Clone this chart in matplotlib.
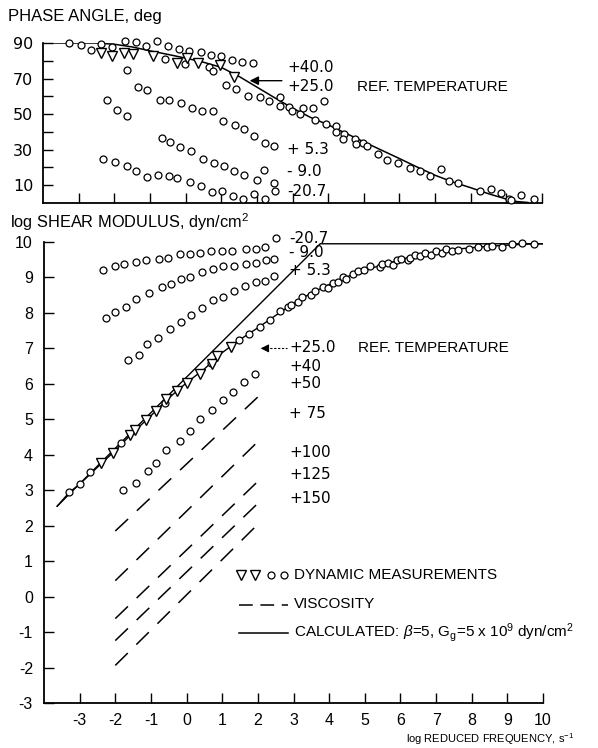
import numpy as np
import matplotlib
matplotlib.use("Agg")
import matplotlib.pyplot as plt

plt.rcParams['font.family'] = ['Liberation Sans', 'DejaVu Sans']
plt.rcParams['mathtext.fontset'] = 'custom'
plt.rcParams['mathtext.rm'] = 'Liberation Sans'
plt.rcParams['mathtext.it'] = 'Liberation Sans:italic'
plt.rcParams['axes.unicode_minus'] = False

# ---------------- phase angle panel data ----------------
phase_calc_x = [-4.0, -2.5, -2.0, -1.5, -1.0, -0.5, 0.0, 0.5, 1.0, 1.5, 2.0, 2.5, 3.0, 3.5,
                4.0, 4.5, 5.0, 5.5, 6.0, 6.5, 7.0, 7.5, 8.0, 8.5, 9.0, 9.3, 9.6]
phase_calc_y = [90, 90, 89.3, 87.8, 85.6, 83.6, 81.5, 79.2, 76.3, 71.2, 65.2, 59.2, 53.4, 48.2,
                44.0, 39.2, 34.4, 29.7, 25.0, 20.2, 15.6, 11.8, 8.6, 5.2, 2.2, 0.8, 0.3]

phase_tri_x = [-2.38, -2.06, -1.73, -1.47, -0.91, -0.25, 0.05, 0.36, 0.97, 1.35]
phase_tri_y = [84.4, 82.5, 84.4, 84.0, 82.5, 78.8, 81.6, 78.8, 77.9, 70.8]

phase_ref_x = [-3.27, -2.94, -2.66, -2.38, -2.06, -0.58, -0.01, 0.67, 0.78, 1.14, 1.42, 1.74,
               2.08, 2.33, 2.64, 2.64, 2.9, 2.99, 3.22, 3.3, 3.58, 3.88, 3.62, 3.93, 4.21, 4.23,
               4.44, 4.42, 4.74, 4.78, 4.98, 5.1, 5.39, 5.65, 5.96, 6.31, 6.59, 6.87, 7.18, 7.38,
               7.64, 8.25, 8.58, 8.85, 9.07, 9.14, 9.42, 9.77]
phase_ref_y = [90, 88.7, 86.3, 89.6, 87.8, 81.2, 78.4, 76.6, 74.5, 66.3, 64.3, 60.1,
               59.6, 57.3, 59.6, 54.5, 54, 51.7, 50.2, 53.2, 53.6, 57.3, 46.6, 44.6, 43.3, 39.9,
               38.6, 36.2, 36.2, 33.4, 33.9, 32.1, 27.4, 24, 22.3, 19.9, 18, 15.2, 19.3, 12.4,
               11.5, 6.8, 8.1, 5.5, 2.1, 1.6, 4.6, 2.1]

phase_40_x = [-1.71, -1.4, -1.12, -0.79, -0.49, -0.19, 0.09, 0.42, 0.7, 0.98, 1.31, 1.59, 1.9]
phase_40_y = [90.9, 90.6, 88.1, 90.9, 88.1, 86.8, 85.3, 85.0, 83.1, 82.5, 80.7, 79.2, 78.8]

phase_5_x = [-1.64, -1.34, -1.07, -0.72, -0.47, -0.14, 0.17, 0.47, 0.77, 1.06, 1.4, 1.65,
             1.93, 2.22, 2.48]
phase_5_y = [75, 65, 63.3, 58.2, 57.7, 56, 53.6, 51.7, 52, 46.4, 43.6, 41.4, 37.7, 34, 32]

phase_m9_x = [-2.2, -1.93, -1.65, -0.65, -0.44, -0.17, 0.14, 0.49, 0.79, 1.09, 1.37, 1.65,
              1.99, 2.2, 2.48, 2.5]
phase_m9_y = [58.2, 52.2, 49.2, 36.7, 34.3, 31.5, 29.3, 25, 22.3, 20.8, 18, 15.8, 12.8,
              18.4, 11.5, 6.8]

phase_m21_x = [-2.31, -1.99, -1.65, -1.4, -1.09, -0.78, -0.47, -0.23, 0.12, 0.42, 0.73,
               1.03, 1.33, 1.62, 1.93, 2.24]
phase_m21_y = [25, 23.1, 20.8, 18, 14.9, 15.6, 15.2, 13.9, 11.9, 9.3, 6.4, 6.8, 4, 2.5, 5, 2.5]

# ---------------- shear modulus panel data ----------------
mod_calc_x = [-3.63, -3.29, -3.0, -2.5, -2.0, -1.5, -1.0, -0.5, 0.0, 0.5, 1.0, 1.5, 2.0, 2.5,
              3.0, 3.5, 4.0, 4.5, 5.0, 5.5, 6.0, 6.5, 7.0, 7.5, 8.0, 8.5, 9.0, 9.5, 10.0]
mod_calc_y = [2.55, 2.94, 3.17, 3.65, 4.12, 4.63, 5.1, 5.6, 6.03, 6.42, 6.88, 7.25, 7.58, 7.93,
              8.27, 8.56, 8.8, 9.02, 9.2, 9.36, 9.5, 9.62, 9.72, 9.79, 9.84, 9.88, 9.91, 9.94, 9.95]

mod_asym_x = [-3.63, 3.75, 10.0]
mod_asym_y = [2.55, 9.95, 9.95]

mod_tri_x = [-2.39, -2.06, -1.6, -1.44, -1.15, -0.87, -0.57, -0.28, 0.0, 0.37, 0.7, 0.86, 1.24]
mod_tri_y = [3.76, 4.06, 4.56, 4.7, 4.98, 5.23, 5.56, 5.81, 6.03, 6.28, 6.56, 6.79, 7.03]

mod_ref_x = [-3.29, -3.0, -2.72, -1.84, -0.61, 0.68, 1.47, 1.76, 2.06, 2.35, 2.63, 2.84, 2.93,
             3.12, 3.23, 3.49, 3.59, 3.82, 3.96, 4.1, 4.24, 4.39, 4.48, 4.67, 4.81, 4.98, 5.14,
             5.42, 5.47, 5.65, 5.8, 5.89, 6.03, 6.2, 6.26, 6.4, 6.54, 6.69, 6.85, 7.01, 7.16,
             7.27, 7.44, 7.62, 7.91, 8.19, 8.42, 8.56, 8.85, 9.13, 9.41, 9.74]
mod_ref_y = [2.94, 3.17, 3.5, 4.32, 5.47, 6.58, 7.24, 7.41, 7.61, 7.8, 8.05, 8.18, 8.22,
             8.32, 8.44, 8.51, 8.63, 8.72, 8.69, 8.85, 8.88, 9.02, 8.95, 9.1, 9.17, 9.21, 9.32,
             9.29, 9.38, 9.42, 9.35, 9.49, 9.51, 9.49, 9.56, 9.63, 9.6, 9.7, 9.63, 9.76, 9.7,
             9.79, 9.76, 9.78, 9.79, 9.85, 9.87, 9.89, 9.87, 9.95, 9.97, 9.95]

mod_m21_x = [-2.35, -2.0, -1.75, -1.41, -1.15, -0.78, -0.53, -0.19, 0.09, 0.39, 0.68, 0.99,
             1.27, 1.66, 1.94, 2.21, 2.51]
mod_m21_y = [9.22, 9.31, 9.38, 9.45, 9.48, 9.53, 9.55, 9.67, 9.67, 9.69, 9.74, 9.76, 9.74,
             9.81, 9.81, 9.86, 10.11]

mod_m9_x = [-2.25, -2.0, -1.7, -1.41, -1.06, -0.69, -0.43, -0.17, 0.11, 0.44, 0.75, 1.03,
            1.33, 1.66, 1.94, 2.23, 2.44]
mod_m9_y = [7.85, 8.03, 8.17, 8.38, 8.55, 8.72, 8.82, 8.96, 9.02, 9.15, 9.24, 9.31, 9.32,
            9.38, 9.41, 9.48, 9.53]

mod_5_x = [-1.65, -1.34, -1.11, -0.81, -0.47, -0.17, 0.13, 0.44, 0.74, 1.03, 1.33, 1.64,
           1.94, 2.21, 2.46]
mod_5_y = [6.66, 6.82, 7.13, 7.3, 7.54, 7.73, 7.94, 8.13, 8.36, 8.44, 8.63, 8.75, 8.88, 8.91, 9.05]

mod_40_x = [-1.77, -1.41, -1.09, -0.85, -0.57, -0.19, 0.09, 0.39, 0.72, 1.01, 1.3, 1.6, 1.92]
mod_40_y = [3.0, 3.21, 3.54, 3.77, 4.13, 4.39, 4.68, 5.0, 5.26, 5.54, 5.78, 6.06, 6.28]

# viscosity lines (+50 ... +150), from log f = -2 to 2
visc_x = [-2.0, 2.0]
visc_start = [1.85, 0.45, -0.62, -1.24, -1.94]
visc_end = [5.63, 4.37, 3.25, 2.63, 2.04]

top_labels = [("+40.0", 76.2), ("+25.0", 65.5), ("+ 5.3", 30.3), ("- 9.0", 18.0), ("-20.7", 6.3)]
bot_labels = [("-20.7", 10.1), ("- 9.0", 9.69), ("+ 5.3", 9.21), ("+25.0", 7.02), ("+40", 6.48),
              ("+50", 6.0), ("+ 75", 5.17), ("+100", 4.05), ("+125", 3.43), ("+150", 2.78)]

W, H = 598, 748
fig = plt.figure(figsize=(W / 100, H / 100), dpi=100)

circ = dict(ls='none', marker='o', ms=5, mfc='white', mec='black', mew=0.9, clip_on=False, zorder=3)
tri = dict(ls='none', marker='v', ms=7.5, mfc='white', mec='black', mew=1.0, clip_on=False, zorder=4)
num_font = ['DejaVu Sans']

def style_axes(ax):
    for s in ['top', 'right']:
        ax.spines[s].set_visible(False)
    for s in ['left', 'bottom']:
        ax.spines[s].set_linewidth(1.3)
    ax.tick_params(direction='in', length=7, width=1.0, labelsize=11.5, colors='black')
    ax.set_xlim(-4, 10)
    ax.set_xticks(range(-3, 11))

# ---------- top panel ----------
ax1 = fig.add_axes([43 / W, 1 - 203 / H, 499 / W, 160 / H])
style_axes(ax1)
ax1.set_ylim(0, 90)
ax1.set_yticks(range(10, 91, 10))
ax1.set_yticklabels([str(v) if v % 20 == 10 else "" for v in range(10, 91, 10)],
                    family=num_font, fontsize=11.5)
ax1.tick_params(axis='y', pad=7)
ax1.set_xticklabels([])

ax1.plot(phase_calc_x, phase_calc_y, color='black', lw=1.1, zorder=2)
for xs, ys in [(phase_ref_x, phase_ref_y), (phase_40_x, phase_40_y), (phase_5_x, phase_5_y),
               (phase_m9_x, phase_m9_y), (phase_m21_x, phase_m21_y)]:
    ax1.plot(xs, ys, **circ)
ax1.plot(phase_tri_x, phase_tri_y, **tri)

for txt, y in top_labels:
    ax1.text(2.85, y, txt, fontsize=11, va='center', ha='left', family=num_font)
ax1.text(4.8, 65.5, "REF. TEMPERATURE", fontsize=11, va='center', ha='left')
ax1.annotate('', xy=(1.72, 68.8), xytext=(2.78, 68.8),
             arrowprops=dict(arrowstyle='-|>', color='black', lw=1.0, mutation_scale=13))

# ---------- bottom panel ----------
ax2 = fig.add_axes([44 / W, 1 - 703 / H, 499 / W, 461 / H])
style_axes(ax2)
ax2.set_ylim(-3, 10)
ax2.set_yticks(range(-3, 11))
ax2.tick_params(axis='y', pad=8)
ax2.tick_params(axis='x', pad=7)

ax2.plot(mod_asym_x, mod_asym_y, color='black', lw=1.0, zorder=2)
ax2.plot(mod_calc_x, mod_calc_y, color='black', lw=1.0, zorder=2)
for y0, y1 in zip(visc_start, visc_end):
    ax2.plot(visc_x, [y0, y1], color='black', lw=1.1, dashes=(11.5, 7.9))
for xs, ys in [(mod_ref_x, mod_ref_y), (mod_m21_x, mod_m21_y), (mod_m9_x, mod_m9_y),
               (mod_5_x, mod_5_y), (mod_40_x, mod_40_y)]:
    ax2.plot(xs, ys, **circ)
ax2.plot(mod_tri_x, mod_tri_y, **tri)

for txt, y in bot_labels:
    ax2.text(2.88, y, txt, fontsize=11, va='center', ha='left', family=num_font)
ax2.text(4.8, 7.02, "REF. TEMPERATURE", fontsize=11, va='center', ha='left')
ax2.plot([2.12, 2.82], [7.0, 7.0], color='black', lw=0.8, ls=(0, (2, 1.5)))
ax2.annotate('', xy=(2.0, 7.0), xytext=(2.3, 7.0),
             arrowprops=dict(arrowstyle='-|>', color='black', lw=0.8, mutation_scale=12))

# legend drawn by hand like the original
ax2.plot([1.52, 1.92], [0.61, 0.61], ls='none', marker='v', ms=7.5, mfc='white', mec='black', mew=1.0)
ax2.plot([2.37, 2.73], [0.61, 0.61], ls='none', marker='o', ms=5, mfc='white', mec='black', mew=0.9)
ax2.text(3.02, 0.61, "DYNAMIC MEASUREMENTS", fontsize=11, va='center')
ax2.plot([1.46, 2.85], [-0.24, -0.24], color='black', lw=1.1, dashes=(9, 5))
ax2.text(3.02, -0.22, "VISCOSITY", fontsize=11, va='center')
ax2.plot([1.46, 2.85], [-1.03, -1.03], color='black', lw=1.1)
ax2.text(3.02, -1.0, r"CALCULATED: $\beta$=5, G$_{\rm g}$=5 x 10$^{9}$ dyn/cm$^{2}$",
         fontsize=11, va='center')

fig.text(8 / W, 1 - 16 / H, "PHASE ANGLE, deg", fontsize=12, va='center', ha='left')
fig.text(10 / W, 1 - 222 / H, "log SHEAR MODULUS, dyn/cm$^{2}$", fontsize=11.8, va='center', ha='left')
fig.text(490 / W, 1 - 739 / H, "log REDUCED FREQUENCY, s$^{-1}$", fontsize=8, va='center', ha='center')

fig.savefig("out.png", dpi=100, facecolor='white')
